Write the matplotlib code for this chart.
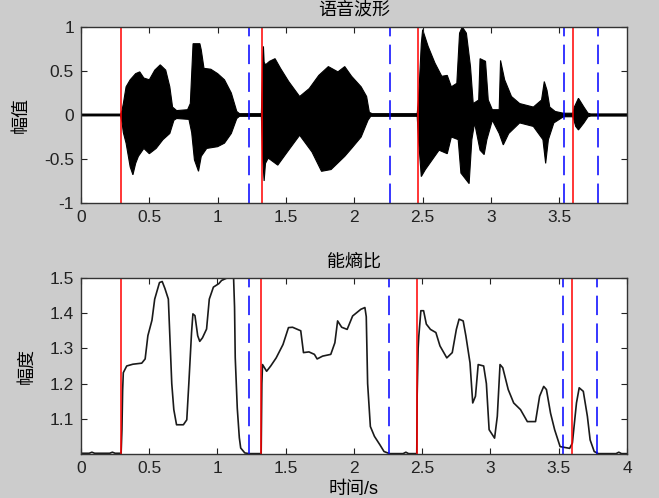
import numpy as np
import matplotlib.pyplot as plt
from matplotlib.ticker import FuncFormatter

plt.rcParams['font.family'] = ['Liberation Sans', 'Noto Sans CJK SC']
plt.rcParams['axes.unicode_minus'] = False
plt.rcParams['lines.scale_dashes'] = False

# 端点检测结果 (s)
starts = [0.294, 1.321, 2.463, 3.600]
ends = [1.230, 2.260, 3.534, 3.784]

# 语音波形包络 (上沿)
up_t = [0.0, 0.29, 0.30, 0.31, 0.33, 0.36, 0.40, 0.43, 0.46, 0.50, 0.54, 0.58,
        0.62, 0.65, 0.67, 0.70, 0.78, 0.80, 0.82, 0.87, 0.88, 0.90, 0.95, 1.00,
        1.05, 1.10, 1.14, 1.16, 1.32, 1.33, 1.335, 1.34, 1.35, 1.38, 1.42, 1.46,
        1.52, 1.60, 1.67, 1.74, 1.81, 1.88, 1.93, 1.98, 2.05, 2.09, 2.11, 2.13,
        2.46, 2.47, 2.49, 2.50, 2.54, 2.59, 2.64, 2.68, 2.71, 2.75, 2.77, 2.79,
        2.82, 2.85, 2.87, 2.91, 2.92, 2.96, 2.98, 3.01, 3.06, 3.07, 3.10, 3.15,
        3.21, 3.31, 3.37, 3.39, 3.41, 3.43, 3.47, 3.53, 3.60, 3.61, 3.64, 3.68,
        3.71, 3.73, 4.0]
up_v = [0.01, 0.01, 0.05, 0.13, 0.32, 0.40, 0.47, 0.49, 0.42, 0.40, 0.51, 0.57,
        0.51, 0.32, 0.09, 0.05, 0.06, 0.13, 0.81, 0.81, 0.74, 0.53, 0.52, 0.47,
        0.40, 0.25, 0.04, 0.015, 0.015, 0.64, 0.78, 0.60, 0.57, 0.61, 0.64, 0.53,
        0.38, 0.21, 0.30, 0.45, 0.55, 0.49, 0.55, 0.44, 0.32, 0.21, 0.03, 0.015,
        0.015, 0.17, 0.81, 0.97, 0.78, 0.59, 0.44, 0.45, 0.32, 0.36, 0.93, 1.0,
        0.93, 0.55, 0.13, 0.17, 0.64, 0.61, 0.17, 0.06, 0.06, 0.62, 0.40, 0.21,
        0.13, 0.09, 0.17, 0.38, 0.28, 0.09, 0.04, 0.02, 0.02, 0.09, 0.19, 0.09,
        0.02, 0.012, 0.012]

# 语音波形包络 (下沿)
lo_t = [0.0, 0.29, 0.30, 0.31, 0.33, 0.36, 0.38, 0.40, 0.42, 0.46, 0.50, 0.55,
        0.60, 0.65, 0.68, 0.70, 0.79, 0.81, 0.83, 0.86, 0.88, 0.92, 1.00, 1.05,
        1.10, 1.14, 1.16, 1.32, 1.33, 1.34, 1.35, 1.37, 1.44, 1.51, 1.60, 1.69,
        1.76, 1.83, 1.93, 1.98, 2.05, 2.10, 2.12, 2.46, 2.47, 2.49, 2.52, 2.57,
        2.62, 2.68, 2.71, 2.76, 2.78, 2.81, 2.84, 2.86, 2.88, 2.92, 2.95, 2.97,
        3.01, 3.06, 3.09, 3.13, 3.21, 3.31, 3.38, 3.40, 3.42, 3.46, 3.53, 3.60,
        3.62, 3.64, 3.68, 3.71, 3.73, 4.0]
lo_v = [-0.01, -0.01, -0.08, -0.20, -0.32, -0.59, -0.68, -0.55, -0.47, -0.38,
        -0.44, -0.38, -0.28, -0.21, -0.06, -0.04, -0.05, -0.20, -0.51, -0.64,
        -0.47, -0.38, -0.36, -0.32, -0.21, -0.04, -0.015, -0.015, -0.50, -0.75,
        -0.55, -0.49, -0.57, -0.42, -0.23, -0.42, -0.64, -0.62, -0.47, -0.38,
        -0.25, -0.06, -0.015, -0.015, -0.28, -0.70, -0.62, -0.51, -0.40, -0.44,
        -0.25, -0.28, -0.66, -0.72, -0.78, -0.28, -0.09, -0.40, -0.45, -0.28,
        -0.06, -0.21, -0.34, -0.21, -0.09, -0.13, -0.28, -0.55, -0.28, -0.09,
        -0.02, -0.02, -0.13, -0.17, -0.09, -0.02, -0.012, -0.012]

# 能熵比曲线
er_t = [0.0, 0.06, 0.08, 0.10, 0.21, 0.23, 0.25, 0.294, 0.30, 0.305, 0.31, 0.335,
        0.38, 0.445, 0.47, 0.49, 0.52, 0.54, 0.575, 0.595, 0.615, 0.64, 0.65,
        0.665, 0.68, 0.70, 0.75, 0.775, 0.79, 0.81, 0.82, 0.835, 0.855, 0.87,
        0.89, 0.92, 0.94, 0.97, 1.01, 1.03, 1.07, 1.08, 1.11, 1.118, 1.125, 1.13,
        1.145, 1.16, 1.17, 1.20, 1.23, 1.32, 1.322, 1.325, 1.33, 1.36, 1.39,
        1.43, 1.48, 1.52, 1.55, 1.61, 1.63, 1.67, 1.71, 1.73, 1.77, 1.83, 1.86,
        1.88, 1.91, 1.95, 1.99, 2.05, 2.08, 2.09, 2.10, 2.12, 2.15, 2.19, 2.22,
        2.26, 2.36, 2.38, 2.40, 2.46, 2.463, 2.47, 2.475, 2.49, 2.51, 2.53, 2.56,
        2.60, 2.63, 2.68, 2.72, 2.75, 2.77, 2.80, 2.82, 2.85, 2.87, 2.89, 2.91,
        2.95, 2.97, 2.99, 3.03, 3.05, 3.07, 3.09, 3.13, 3.17, 3.22, 3.27, 3.33,
        3.36, 3.39, 3.41, 3.44, 3.47, 3.51, 3.58, 3.60, 3.63, 3.65, 3.68, 3.71,
        3.73, 3.76, 3.79, 3.92, 3.94, 3.96, 4.0]
er_v = [1.002, 1.002, 1.005, 1.002, 1.002, 1.005, 1.002, 1.002, 1.07, 1.18, 1.231,
        1.25, 1.255, 1.258, 1.27, 1.336, 1.38, 1.44, 1.487, 1.49, 1.47, 1.44,
        1.345, 1.20, 1.126, 1.083, 1.083, 1.097, 1.20, 1.345, 1.398, 1.393,
        1.336, 1.32, 1.33, 1.355, 1.44, 1.474, 1.484, 1.493, 1.50, 1.52, 1.52,
        1.50, 1.417, 1.274, 1.13, 1.046, 1.017, 1.003, 1.001, 1.001, 1.09, 1.20,
        1.254, 1.235, 1.25, 1.273, 1.311, 1.359, 1.36, 1.35, 1.288, 1.29, 1.283,
        1.27, 1.278, 1.283, 1.316, 1.378, 1.36, 1.354, 1.392, 1.411, 1.416, 1.39,
        1.20, 1.078, 1.05, 1.026, 1.007, 1.001, 1.001, 1.005, 1.001, 1.001, 1.17,
        1.30, 1.335, 1.407, 1.407, 1.369, 1.354, 1.345, 1.307, 1.273, 1.288,
        1.354, 1.383, 1.378, 1.335, 1.259, 1.145, 1.164, 1.254, 1.25, 1.20,
        1.069, 1.045, 1.107, 1.254, 1.245, 1.183, 1.145, 1.126, 1.092, 1.092,
        1.164, 1.192, 1.183, 1.116, 1.069, 1.021, 1.016, 1.031, 1.145, 1.188,
        1.178, 1.107, 1.04, 1.007, 1.001, 1.001, 1.005, 1.001, 1.001]

fmt = FuncFormatter(lambda v, p: f'{v:g}')

fig = plt.figure(figsize=(6.59, 4.98), dpi=100, facecolor='#cccccc')
ax1 = fig.add_axes([0.1229, 0.5924, 0.8285, 0.3534])
ax2 = fig.add_axes([0.1229, 0.0884, 0.8285, 0.3534])

# 上图: 波形
poly_t = np.concatenate([up_t, lo_t[::-1]])
poly_v = np.concatenate([up_v, lo_v[::-1]])
ax1.fill(poly_t, poly_v, color='k', lw=0.8)
ax1.axhline(0, color='k', lw=1.2)
ax1.set_xlim(0, 3.995)
ax1.set_ylim(-1, 1)
ax1.set_xticks(np.arange(0, 3.6, 0.5))
ax1.set_yticks([-1, -0.5, 0, 0.5, 1])
ax1.set_title('语音波形', fontsize=13, pad=9)
ax1.set_ylabel('幅值', fontsize=13, labelpad=10)

# 下图: 能熵比
ax2.plot(er_t, er_v, color='#1a1a1a', lw=1.2)
ax2.set_xlim(0, 4)
ax2.set_ylim(1.0, 1.5)
ax2.set_xticks(np.arange(0, 4.1, 0.5))
ax2.set_yticks([1.1, 1.2, 1.3, 1.4, 1.5])
ax2.set_title('能熵比', fontsize=13, pad=8)
ax2.set_ylabel('幅度', fontsize=13, labelpad=10)
ax2.set_xlabel('时间/s', fontsize=13, labelpad=4)

for ax in (ax1, ax2):
    for s in starts:
        ax.axvline(s, color='red', lw=1.1)
    for e in ends:
        ax.axvline(e, color='blue', lw=1.1, linestyle=(0, (14, 6)))
    ax.xaxis.set_major_formatter(fmt)
    ax.yaxis.set_major_formatter(fmt)
    ax.tick_params(direction='in', top=True, right=True, length=4,
                   labelsize=12.5, colors='#222222', pad=5)
    for sp in ax.spines.values():
        sp.set_color('#333333')
        sp.set_linewidth(1.0)

fig.savefig('out.png', dpi=100, facecolor=fig.get_facecolor())
